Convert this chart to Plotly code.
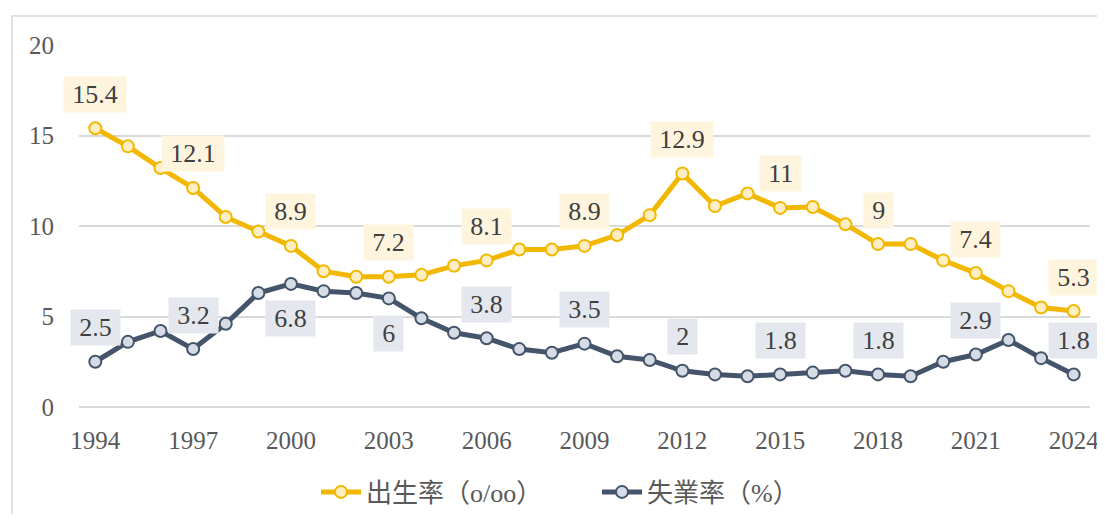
import plotly.graph_objects as go

years = list(range(1994, 2025))
birth_rate = [15.4, 14.4, 13.2, 12.1, 10.5, 9.7, 8.9, 7.5, 7.2, 7.2,
              7.3, 7.8, 8.1, 8.7, 8.7, 8.9, 9.5, 10.6, 12.9, 11.1,
              11.8, 11.0, 11.05, 10.1, 9.0, 9.0, 8.1, 7.4, 6.4, 5.5, 5.3]
unemployment = [2.5, 3.6, 4.2, 3.2, 4.6, 6.3, 6.8, 6.4, 6.3, 6.0,
                4.9, 4.1, 3.8, 3.2, 3.0, 3.5, 2.8, 2.6, 2.0, 1.8,
                1.7, 1.8, 1.9, 2.0, 1.8, 1.7, 2.5, 2.9, 3.7, 2.7, 1.8]

birth_label_years = [1994, 1997, 2000, 2003, 2006, 2009, 2012, 2015, 2018, 2021, 2024]
birth_label_text = ["15.4", "12.1", "8.9", "7.2", "8.1", "8.9", "12.9", "11", "9", "7.4", "5.3"]
unemp_label_years = [1994, 1997, 2000, 2003, 2006, 2009, 2012, 2015, 2018, 2021, 2024]
unemp_label_text = ["2.5", "3.2", "6.8", "6", "3.8", "3.5", "2", "1.8", "1.8", "2.9", "1.8"]
unemp_label_below = [2000, 2003]

series_names = ["出生率（o/oo）", "失業率（%）"]
x_ticks = list(range(1994, 2025, 3))
y_ticks = [0, 5, 10, 15, 20]

YEL = "#F2B800"
YEL_FILL = "#FFEEC2"
YEL_BOX = "#FFF5DE"
NAVY = "#44546A"
NAVY_FILL = "#D6DCE5"
NAVY_BOX = "#E4E8EE"
TXT = "#404040"
FONT = "Liberation Serif"
PAD = "\u2009"

# page body has an 8px default margin; figure sized so that it fits the window
W, H = 1097, 506
PL, PR, PT, PB = 71, 15, 37, 107
plot_w = W - PL - PR
plot_h = H - PT - PB

fig = go.Figure()
fig.add_trace(go.Scatter(
    x=years, y=birth_rate, name=series_names[0], mode="lines+markers",
    line=dict(color=YEL, width=5),
    marker=dict(size=12, color=YEL_FILL, line=dict(color=YEL, width=2)),
))
fig.add_trace(go.Scatter(
    x=years, y=unemployment, name=series_names[1], mode="lines+markers",
    line=dict(color=NAVY, width=5),
    marker=dict(size=12, color=NAVY_FILL, line=dict(color=NAVY, width=2)),
))

annotations = []
for yr, txt in zip(birth_label_years, birth_label_text):
    yv = birth_rate[years.index(yr)]
    annotations.append(dict(
        x=yr, y=yv, xref="x", yref="y", text=PAD + txt + PAD, showarrow=False,
        yshift=34, bgcolor=YEL_BOX, borderpad=3,
        font=dict(family=FONT, size=26, color=TXT),
    ))
for yr, txt in zip(unemp_label_years, unemp_label_text):
    yv = unemployment[years.index(yr)]
    shift = -35 if yr in unemp_label_below else 34
    annotations.append(dict(
        x=yr, y=yv, xref="x", yref="y", text=PAD + txt + PAD, showarrow=False,
        yshift=shift, bgcolor=NAVY_BOX, borderpad=3,
        font=dict(family=FONT, size=26, color=TXT),
    ))

fig.update_layout(
    width=W, height=H,
    margin=dict(l=PL, r=PR, t=PT, b=PB, autoexpand=False),
    paper_bgcolor="white", plot_bgcolor="white",
    font=dict(family=FONT, size=24, color="#595959"),
    showlegend=True,
    legend=dict(orientation="h", xref="container", yref="container",
                x=(316 - 8) / W, xanchor="left", y=1 - (492 - 8) / H, yanchor="middle",
                font=dict(family="Liberation Serif, Noto Sans CJK TC", size=26, color="#595959"),
                itemwidth=40, tracegroupgap=0, entrywidth=226),
    annotations=annotations,
    shapes=[dict(type="rect", xref="paper", yref="paper",
                 x0=(4 - PL) / plot_w, x1=1.2, y0=-0.5, y1=(PT + plot_h - 8) / plot_h,
                 line=dict(color="#D9D9D9", width=1.5), fillcolor="rgba(0,0,0,0)",
                 layer="below")],
)
fig.update_xaxes(
    range=[1993.5, 2024.5], tickmode="array", tickvals=x_ticks,
    ticktext=[str(v) for v in x_ticks], showgrid=False, zeroline=False,
    showline=False, ticks="", ticklabelstandoff=16, automargin=False,
    tickfont=dict(family=FONT, size=25, color="#595959"),
)
fig.update_yaxes(
    range=[0, 20], tickmode="array", tickvals=y_ticks, showgrid=True,
    gridcolor="#D9D9D9", gridwidth=1.5, zeroline=True, zerolinecolor="#D9D9D9",
    zerolinewidth=1.5, showline=False, ticks="", ticklabelstandoff=24, automargin=False,
    tickfont=dict(family=FONT, size=25, color="#595959"),
)

fig.write_html("out.html")
